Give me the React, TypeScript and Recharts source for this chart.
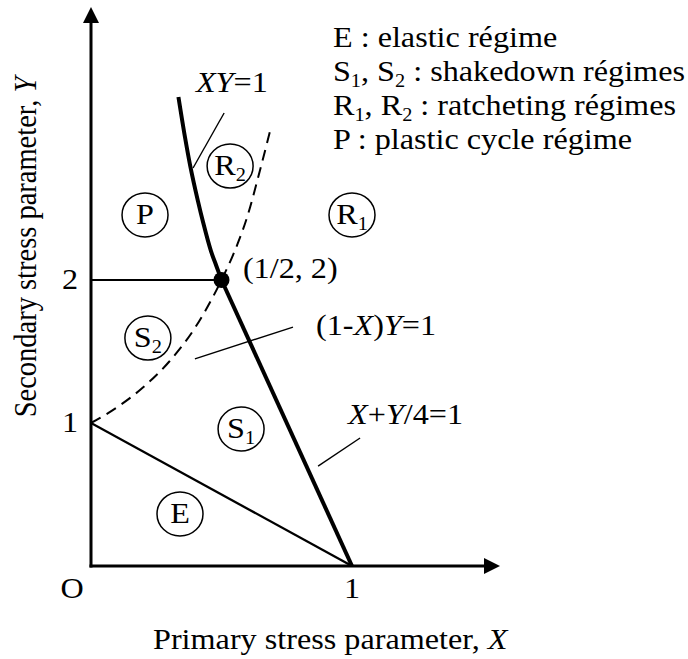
import React from "react";
import { ComposedChart, Line, Scatter, XAxis, YAxis, ReferenceLine, ReferenceDot } from "recharts";

const FONT = "'Liberation Serif', 'Times New Roman', Times, serif";
const FS = 28.5;
const SUB_FS = 18;
const SUB_DY = 6;
const SX = 1.13; // lettering is set a little wide

// régime boundaries, in (X, Y)
const XY_ONE = [
  { x: 0.335, y: 3.28 },
  { x: 0.36, y: 3.0 },
  { x: 0.38, y: 2.8 },
  { x: 0.41, y: 2.55 },
  { x: 0.43, y: 2.4 },
  { x: 0.46, y: 2.2 },
  { x: 0.48, y: 2.1 },
  { x: 0.5, y: 2.0 },
];
const SHAKEDOWN_LIMIT = [
  { x: 0, y: 1 },
  { x: 0.1, y: 1.11 },
  { x: 0.2, y: 1.25 },
  { x: 0.3, y: 1.43 },
  { x: 0.4, y: 1.67 },
  { x: 0.5, y: 2 },
  { x: 0.55, y: 2.2 },
  { x: 0.6, y: 2.45 },
  { x: 0.645, y: 2.75 },
  { x: 0.69, y: 3.07 },
];
const ELASTIC_LIMIT = [
  { x: 0, y: 1 },
  { x: 1, y: 0 },
];
const RATCHET_LIMIT = [
  { x: 0.5, y: 2 },
  { x: 1, y: 0 },
];
const PLASTIC_LIMIT = [
  { x: 0, y: 2 },
  { x: 0.5, y: 2 },
];
const CORNER = [{ x: 0.5, y: 2 }];

const X_TICKS = [0, 1];
const Y_TICKS = [1, 2];

const REGIONS = [
  { name: "P", sub: "", x: 0.207, y: 2.455 },
  { name: "R", sub: "2", x: 0.533, y: 2.797 },
  { name: "R", sub: "1", x: 1.0, y: 2.455 },
  { name: "S", sub: "2", x: 0.218, y: 1.594 },
  { name: "S", sub: "1", x: 0.575, y: 0.958 },
  { name: "E", sub: "", x: 0.341, y: 0.364 },
];

// leader lines from the equations to their curves
const LEADERS = [
  [{ x: 0.51, y: 3.168 }, { x: 0.391, y: 2.783 }],
  [{ x: 0.774, y: 1.671 }, { x: 0.398, y: 1.448 }],
  [{ x: 1.031, y: 0.895 }, { x: 0.87, y: 0.699 }],
];

const LEGEND_LINES = [
  ["E : elastic régime"],
  ["S", { sub: "1" }, ", S", { sub: "2" }, " : shakedown régimes"],
  ["R", { sub: "1" }, ", R", { sub: "2" }, " : ratcheting régimes"],
  ["P : plastic cycle régime"],
];

// text runs: plain strings, { i } for italics, { sub } for subscripts
const runs = (parts: any[]) => {
  let shifted = false;
  return parts.map((p, k) => {
    if (typeof p === "string" || p.i) {
      const el = (
        <tspan key={k} dy={shifted ? -SUB_DY : undefined} fontStyle={p.i ? "italic" : undefined}>
          {typeof p === "string" ? p : p.i}
        </tspan>
      );
      shifted = false;
      return el;
    }
    shifted = true;
    return (
      <tspan key={k} fontSize={SUB_FS} dy={SUB_DY}>
        {p.sub}
      </tspan>
    );
  });
};

const Txt = ({ x, y, anchor = "start", vertical = false, parts }: any) => (
  <text
    transform={
      vertical
        ? `translate(${x},${y}) rotate(-90) scale(1,${SX})`
        : `translate(${x},${y}) scale(${SX},1)`
    }
    fontFamily={FONT}
    fontSize={FS}
    textAnchor={anchor}
    fill="#000"
  >
    {runs(parts)}
  </text>
);

const ArrowAxis = (p: any) => {
  const { x1, y1, x2, y2 } = p;
  const a = Math.atan2(y2 - y1, x2 - x1);
  const L = 16;
  const W = 8;
  const bx = x2 - L * Math.cos(a);
  const by = y2 - L * Math.sin(a);
  const s = Math.sin(a);
  const c = Math.cos(a);
  const pts = `${x2},${y2} ${bx - W * s},${by + W * c} ${bx + W * s},${by - W * c}`;
  return (
    <g>
      <line x1={x1} y1={y1} x2={bx + c} y2={by + s} stroke="#000" strokeWidth={3} strokeLinecap="square" />
      <polygon points={pts} fill="#000" />
    </g>
  );
};

const RegionMark = (name: string, sub: string) => (p: any) => (
  <g>
    <ellipse cx={p.cx} cy={p.cy} rx={23} ry={22} fill="none" stroke="#000" strokeWidth={1.5} />
    <Txt x={p.cx} y={p.cy + 9} anchor="middle" parts={sub ? [name, { sub }] : [name]} />
  </g>
);

const Note = (parts: any[]) => (p: any) => <Txt x={p.cx} y={p.cy} parts={parts} />;

const LegendBlock = (p: any) => (
  <g>
    {LEGEND_LINES.map((line, k) => (
      <Txt key={k} x={p.cx} y={p.cy + k * 34} parts={line} />
    ))}
  </g>
);

const XTick = (p: any) => {
  const v = p.payload.value;
  return <Txt x={v === 0 ? p.x - 19 : p.x} y={p.y + 24} anchor="middle" parts={[v === 0 ? "O" : String(v)]} />;
};

const YTick = (p: any) => <Txt x={p.x - 13} y={p.y + 9} anchor="middle" parts={[String(p.payload.value)]} />;

export default function App() {
  return (
    <div style={{ position: "absolute", left: 0, top: 0, width: 688, height: 659, background: "#fff" }}>
      <ComposedChart width={688} height={659} margin={{ top: 8.3, right: 179.4, bottom: 0, left: 0 }}>
        <XAxis
          type="number"
          dataKey="x"
          domain={[0, 1.6]}
          allowDataOverflow
          ticks={X_TICKS}
          tick={XTick}
          axisLine={false}
          tickLine={false}
          height={93}
          label={{
            content: (lp: any) => (
              <Txt x={lp.viewBox.x + 62} y={lp.viewBox.y + 83} parts={["Primary stress parameter, ", { i: "X" }]} />
            ),
          }}
        />
        <YAxis
          type="number"
          dataKey="y"
          domain={[0, 3.9]}
          allowDataOverflow
          ticks={Y_TICKS}
          tick={YTick}
          axisLine={false}
          tickLine={false}
          width={91}
          label={{
            content: (lp: any) => (
              <Txt
                x={lp.viewBox.x + 36}
                y={lp.viewBox.y + 409}
                vertical
                parts={["Secondary stress parameter, ", { i: "Y" }]}
              />
            ),
          }}
        />

        <ReferenceLine segment={[{ x: 0, y: 0 }, { x: 0, y: 3.909 }]} ifOverflow="visible" shape={ArrowAxis} />
        <ReferenceLine segment={[{ x: 0, y: 0 }, { x: 1.567, y: 0 }]} ifOverflow="visible" shape={ArrowAxis} />

        <Line data={ELASTIC_LIMIT} dataKey="y" type="linear" stroke="#000" strokeWidth={2.3} dot={false} isAnimationActive={false} />
        <Line data={PLASTIC_LIMIT} dataKey="y" type="linear" stroke="#000" strokeWidth={2} dot={false} isAnimationActive={false} />
        <Line
          data={SHAKEDOWN_LIMIT}
          dataKey="y"
          type="monotone"
          stroke="#000"
          strokeWidth={2}
          strokeDasharray="11 7"
          dot={false}
          isAnimationActive={false}
        />
        <Line data={RATCHET_LIMIT} dataKey="y" type="linear" stroke="#000" strokeWidth={4} dot={false} isAnimationActive={false} />
        <Line data={XY_ONE} dataKey="y" type="monotone" stroke="#000" strokeWidth={4} dot={false} isAnimationActive={false} />

        {LEADERS.map((seg, i) => (
          <ReferenceLine key={i} segment={seg} ifOverflow="visible" stroke="#000" strokeWidth={1.4} />
        ))}

        <Scatter
          data={CORNER}
          dataKey="y"
          isAnimationActive={false}
          shape={(p: any) => <circle cx={p.cx} cy={p.cy} r={8} fill="#000" />}
        />

        {REGIONS.map((r, i) => (
          <ReferenceDot key={i} x={r.x} y={r.y} ifOverflow="visible" shape={RegionMark(r.name, r.sub)} />
        ))}

        <ReferenceDot x={0.402} y={3.315} ifOverflow="visible" shape={Note([{ i: "XY" }, "=1"])} />
        <ReferenceDot x={0.582} y={2.014} ifOverflow="visible" shape={Note(["(1/2, 2)"])} />
        <ReferenceDot x={0.862} y={1.615} ifOverflow="visible" shape={Note(["(1-", { i: "X" }, ")", { i: "Y" }, "=1"])} />
        <ReferenceDot x={0.985} y={0.993} ifOverflow="visible" shape={Note([{ i: "X" }, "+", { i: "Y" }, "/4=1"])} />
        <ReferenceDot x={0.927} y={3.629} ifOverflow="visible" shape={LegendBlock} />
      </ComposedChart>
    </div>
  );
}
